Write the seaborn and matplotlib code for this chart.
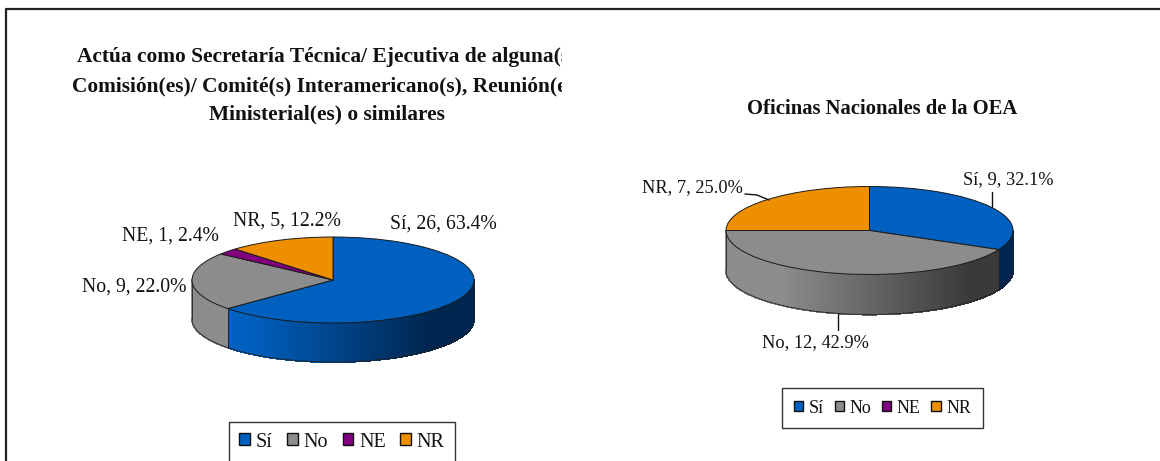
import numpy as np
import seaborn as sns
import matplotlib.pyplot as plt
from matplotlib.colors import to_rgb
from matplotlib.lines import Line2D
from matplotlib.patches import Patch
from matplotlib.transforms import Bbox

# Datos de las dos tortas
categorias = ["Sí", "No", "NE", "NR"]
valores_izq = [26, 9, 1, 5]
valores_der = [9, 12, 0, 7]
pct_izq = ["63.4%", "22.0%", "2.4%", "12.2%"]
pct_der = ["32.1%", "42.9%", "", "25.0%"]
titulo_izq = ("Actúa como Secretaría Técnica/ Ejecutiva de alguna(s)\n"
              "Comisión(es)/ Comité(s) Interamericano(s), Reunión(es)\n"
              "Ministerial(es) o similares")
titulo_der = "Oficinas Nacionales de la OEA"

colores = ["#0060c0", "#8c8c8c", "#800080", "#ee8f00"]
oscuros = ["#00264f", "#3a3a3a", "#400040", "#774700"]

sns.set_theme(style="white")
plt.rcParams["font.family"] = ["Liberation Serif", "DejaVu Serif"]

W, H = 1160, 461
fig = plt.figure(figsize=(W / 100, H / 100), dpi=100, facecolor="white")


def px(x, y):
    return x / W, 1 - y / H


def torta(cx, cy, rx, ry, prof, valores):
    izq, abajo = px(cx - rx, cy + ry + prof)
    ax = fig.add_axes([izq, abajo, 2 * rx / W, (2 * ry + prof) / H])
    d = prof / ry
    ax.set_xlim(-1, 1)
    ax.set_ylim(-1 - d, 1)
    ax.axis("off")

    # pared lateral con degradado, solo la mitad de adelante
    total = sum(valores)
    ini = 90.0
    for v, c1, c2 in zip(valores, colores, oscuros):
        fin = ini - 360.0 * v / total
        a = max(ini, fin)
        b = min(ini, fin)
        for lo, hi in [(b, a), (b + 360, a + 360)]:
            lo2, hi2 = max(lo, 180), min(hi, 360)
            if hi2 <= lo2:
                continue
            for t0 in np.arange(lo2, hi2, 0.5):
                t1 = min(t0 + 0.5, hi2)
                xs = np.cos(np.radians([t0, t1]))
                ys = np.sin(np.radians([t0, t1]))
                f = np.clip((xs.mean() + 0.6) / 1.3, 0, 1)
                col = np.array(to_rgb(c1)) * (1 - f) + np.array(to_rgb(c2)) * f
                ax.fill([xs[0], xs[1], xs[1], xs[0]], [ys[0], ys[1], ys[1] - d, ys[0] - d],
                        color=col, lw=0.8, antialiased=False, zorder=1, clip_on=False)
            # borde de abajo y cortes
            tt = np.radians(np.linspace(lo2, hi2, 80))
            ax.plot(np.cos(tt), np.sin(tt) - d, color="#222222", lw=0.6, zorder=2, clip_on=False)
            for t0 in (lo2, hi2):
                if 180 < t0 < 360:
                    x0, y0 = np.cos(np.radians(t0)), np.sin(np.radians(t0))
                    ax.plot([x0, x0], [y0, y0 - d], color="#222222", lw=0.6, zorder=2)
        ini = fin
    for x0 in (-1, 1):
        ax.plot([x0, x0], [0, -d], color="#222222", lw=0.6, zorder=2, clip_on=False)

    partes, _ = ax.pie(valores, colors=colores, startangle=90, counterclock=False, radius=1,
                       wedgeprops={"edgecolor": "#1a1a1a", "linewidth": 0.7})
    for p in partes:
        p.set_zorder(3)
    ax.set_aspect("auto")
    ax.set_xlim(-1, 1)
    ax.set_ylim(-1 - d, 1)
    return ax


torta(333, 280, 141, 43, 39, valores_izq)
torta(869.5, 230.5, 143.5, 44, 40, valores_der)


def etiqueta(x, y, cat, val, pct, fs=14.2):
    xf, yf = px(x, y)
    fig.text(xf, yf, f"{cat}, {val}, {pct}", ha="center", va="center", fontsize=fs, color="#111111")


# etiquetas de datos
etiqueta(443.5, 224, categorias[0], valores_izq[0], pct_izq[0])
etiqueta(134.5, 287, categorias[1], valores_izq[1], pct_izq[1])
etiqueta(170, 236, categorias[2], valores_izq[2], pct_izq[2])
etiqueta(287, 221, categorias[3], valores_izq[3], pct_izq[3])
etiqueta(1008, 180, categorias[0], valores_der[0], pct_der[0], 13.2)
etiqueta(815.5, 343, categorias[1], valores_der[1], pct_der[1], 13.2)
etiqueta(692, 188, categorias[3], valores_der[3], pct_der[3], 13.2)

# lineas guia
for xs, ys in [([992, 992], [192, 207]), ([837.5, 837.5], [314, 330]), ([745, 757, 769], [194, 195, 200])]:
    xf, yf = zip(*[px(a, b) for a, b in zip(xs, ys)])
    fig.add_artist(Line2D(xf, yf, color="#111111", lw=1))

# titulos
xf, yf = px(327, 86)
t = fig.text(xf, yf, titulo_izq, ha="center", va="center", fontsize=15.4, fontweight="bold",
             color="#111111", linespacing=1.58)
t.set_clip_box(Bbox([[0, 0], [562, H]]))
t.set_clip_on(True)
xf, yf = px(882, 109)
fig.text(xf, yf, titulo_der, ha="center", va="center", fontsize=14.9, fontweight="bold", color="#111111")


def leyenda(x, y, fs, colsp, pad):
    h = [Patch(facecolor=c, edgecolor="#111111", linewidth=1) for c in colores]
    leg = fig.legend(h, categorias, ncol=4, loc="center", bbox_to_anchor=px(x, y),
                     fontsize=fs, fancybox=False, framealpha=1, edgecolor="#333333",
                     handlelength=0.52, handleheight=0.52, handletextpad=0.3, columnspacing=colsp,
                     borderpad=pad, borderaxespad=0)
    leg.get_frame().set_linewidth(1)
    for txt in leg.get_texts():
        txt.set_color("#111111")


leyenda(342, 442, 14.5, 0.72, 0.5)
leyenda(882.5, 408, 13, 0.6, 0.65)

# marco exterior
fig.add_artist(Line2D([6 / W, 6 / W, 1], [0, 1 - 9 / H, 1 - 9 / H], color="#222222", lw=1.6))

fig.savefig("out.png", dpi=100)
plt.close()
